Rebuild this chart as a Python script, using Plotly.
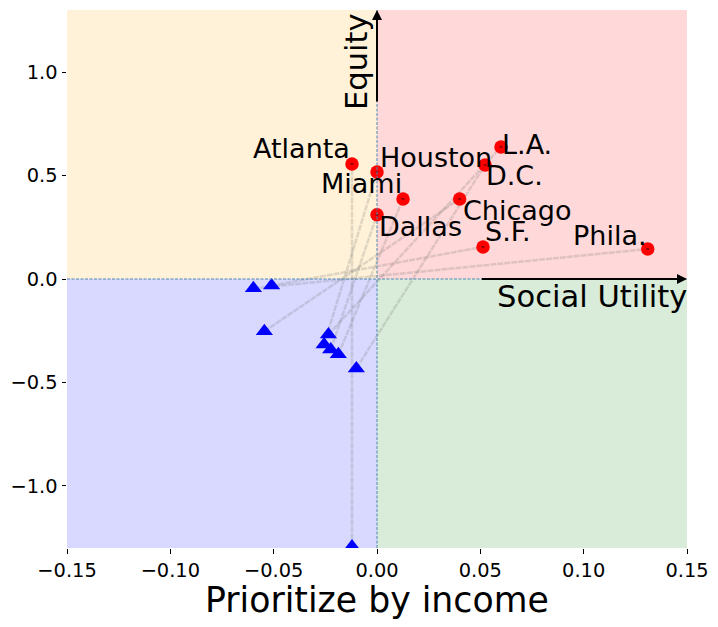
import plotly.graph_objects as go

cities = ["Atlanta", "Houston", "L.A.", "D.C.", "Miami", "Chicago", "Dallas", "S.F.", "Phila."]
after_x = [-0.0121, 0.0, 0.0600, 0.0523, 0.0126, 0.0400, 0.0, 0.0513, 0.1310]
after_y = [0.556, 0.517, 0.638, 0.551, 0.387, 0.387, 0.310, 0.155, 0.145]
before_x = [-0.0121, -0.0256, -0.0235, -0.0100, -0.0187, -0.0545, -0.0224, -0.0510, -0.0598]
before_y = [-1.293, -0.316, -0.268, -0.432, -0.364, -0.253, -0.341, -0.032, -0.045]
x_ticks = [-0.15, -0.10, -0.05, 0.0, 0.05, 0.10, 0.15]
y_ticks = [-1.0, -0.5, 0.0, 0.5, 1.0]
x_limits = [-0.15, 0.15]
y_limits = [-1.3, 1.3]
label_shift = {"Atlanta": (-101, 15), "Houston": (1, 15), "L.A.": (-1, 2), "D.C.": (-1, -11),
               "Miami": (-84, 15), "Chicago": (1, -12), "Dallas": (0, -12), "S.F.": (0, 15), "Phila.": (-77, 14)}

fig = go.Figure()
quadrants = [(x_limits[0], 0, 0, y_limits[1], "rgba(255,165,0,0.15)"),
             (0, x_limits[1], 0, y_limits[1], "rgba(255,0,0,0.15)"),
             (x_limits[0], 0, y_limits[0], 0, "rgba(0,0,255,0.15)"),
             (0, x_limits[1], y_limits[0], 0, "rgba(0,128,0,0.15)")]
for x0, x1, y0, y1, c in quadrants:
    fig.add_shape(type="rect", x0=x0, x1=x1, y0=y0, y1=y1, fillcolor=c, line_width=0, layer="below")
fig.add_shape(type="line", x0=0, x1=0, y0=y_limits[0], y1=y_limits[1], line=dict(color="#4a86b4", width=1, dash="3px,1.5px"))
fig.add_shape(type="line", x0=x_limits[0], x1=x_limits[1], y0=0, y1=0, line=dict(color="#4a86b4", width=1, dash="3px,1.5px"))

for x0, y0, x1, y1 in zip(before_x, before_y, after_x, after_y):
    fig.add_trace(go.Scatter(x=[x0, x1], y=[y0, y1], mode="lines", showlegend=False,
                             line=dict(color="rgba(100,100,100,0.2)", width=2.5, dash="6px,1px")))
fig.add_trace(go.Scatter(x=before_x, y=before_y, mode="markers", showlegend=False,
                         marker=dict(symbol="triangle-up", size=15, color="blue")))
fig.add_trace(go.Scatter(x=after_x, y=after_y, mode="markers", showlegend=False,
                         marker=dict(symbol="circle", size=13.5, color="red")))
fig.add_trace(go.Scatter(x=after_x, y=after_y, mode="markers", showlegend=False,
                         marker=dict(symbol="line-ew", size=2, line=dict(color="black", width=0.8))))

F = "DejaVu Sans"
for name, x, y in zip(cities, after_x, after_y):
    sx, sy = label_shift[name]
    fig.add_annotation(x=x, y=y, text=name, showarrow=False, xanchor="left", yanchor="middle",
                       xshift=sx, yshift=sy, font=dict(family=F, size=27, color="black"))

fig.add_annotation(x=x_limits[1], y=0, ax=0.05, ay=0, xref="x", yref="y", axref="x", ayref="y", text="",
                   showarrow=True, arrowhead=2, arrowsize=1, arrowwidth=2, arrowcolor="black", standoff=0)
fig.add_annotation(x=0, y=y_limits[1], ax=0, ay=0.85, xref="x", yref="y", axref="x", ayref="y", text="",
                   showarrow=True, arrowhead=2, arrowsize=1, arrowwidth=2, arrowcolor="black", standoff=0)
fig.add_annotation(x=x_limits[1], y=0, text="Social Utility", showarrow=False, xanchor="right", yanchor="top",
                   xshift=2, yshift=2, font=dict(family=F, size=30.6, color="black"))
fig.add_annotation(x=0, y=0.85, text="Equity", showarrow=False, textangle=-90, xanchor="right", yanchor="bottom",
                   xshift=-1, yshift=-9, font=dict(family=F, size=30.6, color="black"))
fig.add_annotation(x=0, y=0, xref="x", yref="paper", text="Prioritize by income", showarrow=False,
                   xanchor="center", yanchor="top", yshift=-30, font=dict(family=F, size=34.7, color="black"))

axis = dict(showgrid=False, zeroline=False, showline=False, ticks="outside", ticklen=4.5, tickwidth=1,
            tickcolor="black", tickfont=dict(family=F, size=19.4, color="black"))
fig.update_xaxes(range=x_limits, tickvals=x_ticks, tickformat=".2f", **axis)
fig.update_yaxes(range=y_limits, tickvals=y_ticks, tickformat=".1f", **axis)
fig.update_layout(width=710, height=619, autosize=False, margin=dict(l=59, r=31, t=2, b=79, pad=0),
                  plot_bgcolor="white", paper_bgcolor="white", showlegend=False)
fig.write_html("out.html")
